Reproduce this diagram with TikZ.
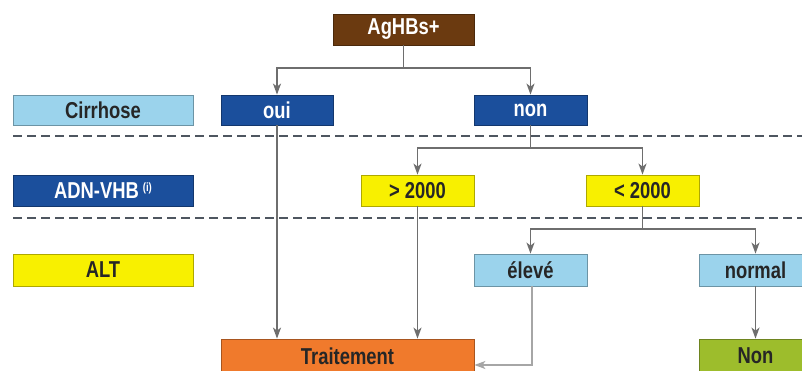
\documentclass[tikz,border=0pt]{standalone}
\usepackage{fontspec}
\setmainfont{Liberation Sans}[FakeStretch=0.80]
\usetikzlibrary{arrows.meta}
\definecolor{brownbox}{HTML}{6B3A10}
\definecolor{darkblue}{HTML}{1B4F9C}
\definecolor{lightblue}{HTML}{9BD3EC}
\definecolor{yellowbox}{HTML}{F8F000}
\definecolor{orangebox}{HTML}{F07A2C}
\definecolor{greenbox}{HTML}{9DBD2C}
\definecolor{linegray}{HTML}{6E6E6E}
\definecolor{dashgray}{HTML}{4E5660}
\begin{document}
\begin{tikzpicture}[x=1pt,y=-1pt,
  box/.style={draw=#1!70!black, line width=0.8pt, inner sep=0pt, font=\fontsize{23}{25}\selectfont\bfseries},
  bx/.style={box=#1, fill=#1},
  conn/.style={draw=linegray, line width=1.5pt, -{Stealth[length=11pt,width=8pt,inset=3pt]}},
  plain/.style={draw=linegray, line width=1.5pt},
  sep/.style={draw=dashgray, dash pattern=on 9pt off 5pt}
]
\useasboundingbox (0,0) rectangle (802,371);
\fill[white] (0,0) rectangle (802,371);
% boxes
\node[bx=brownbox, text=white, minimum width=141pt, minimum height=31pt] (ag) at (403.5,29.5) {AgHBs+};
\node[bx=lightblue, text=black!85, minimum width=180pt, minimum height=30pt] (cir) at (103,110) {Cirrhose};
\node[bx=darkblue, text=white, minimum width=112pt, minimum height=30pt] (oui) at (277,110) {oui};
\node[bx=darkblue, text=white, minimum width=113pt, minimum height=30pt] (non) at (530.5,110) {non};
\node[bx=darkblue, text=white, minimum width=180pt, minimum height=31pt] (adn) at (103,190.5) {ADN-VHB\,\raisebox{0.6ex}{\fontsize{12}{13}\selectfont(i)}};
\node[bx=yellowbox, text=black!85, minimum width=113pt, minimum height=31pt] (gt) at (417.5,190.5) {> 2000};
\node[bx=yellowbox, text=black!85, minimum width=113pt, minimum height=31pt] (lt) at (642.5,190.5) {< 2000};
\node[bx=yellowbox, text=black!85, minimum width=180pt, minimum height=32pt] (alt) at (103,270) {ALT};
\node[bx=lightblue, text=black!85, minimum width=113pt, minimum height=32pt] (ele) at (530.5,270) {élevé};
\node[bx=lightblue, text=black!85, minimum width=113pt, minimum height=32pt] (nor) at (755.5,270) {normal};
\node[bx=orangebox, text=black!85, minimum width=253pt, minimum height=34pt] (tra) at (347.5,356) {Traitement};
\node[bx=greenbox, text=black!85, minimum width=113pt, minimum height=34pt] (non2) at (755.5,356) {Non};
% separators
\coordinate (s1a) at (13,136); \coordinate (s1b) at (802,136);
\coordinate (s2a) at (13,218); \coordinate (s2b) at (802,218);
\draw[sep, line width=2pt] (s1a) -- (s1b);
\draw[sep, line width=1.4pt] (s2a) -- (s2b);
% connectors
\coordinate (j1) at (403.5,68);
\draw[plain] (ag.south) -- (j1);
\draw[conn] (j1) -| (oui.north);
\draw[conn] (j1) -| (non.north);
\coordinate (j2) at (530.5,148);
\draw[plain] (non.south) -- (j2);
\draw[conn] (j2) -| (gt.north);
\draw[conn] (j2) -| (lt.north);
\coordinate (j3) at (642.5,229);
\draw[plain] (lt.south) -- (j3);
\draw[conn] (j3) -| (ele.north);
\draw[conn] (j3) -| (nor.north);
\draw[conn] (oui.south) -- (oui.south |- tra.north);
\draw[conn] (gt.south) -- (gt.south |- tra.north);
\draw[conn] (nor.south) -- (non2.north);
\coordinate (j4) at (532,365);
\draw[conn, draw=gray!70] (ele.south -| j4) -- (j4) -- (tra.east |- j4);
\end{tikzpicture}
\end{document}
